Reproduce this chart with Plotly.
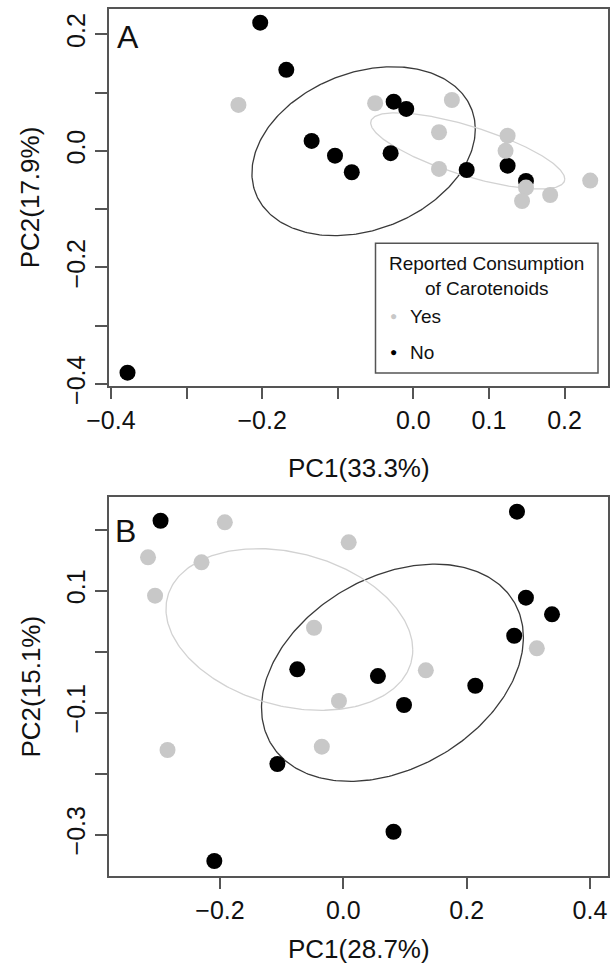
import numpy as np
import plotly.graph_objects as go

# ---------------- data: panel A ----------------
A_no_pc1 = [-0.2025, -0.168, -0.1345, -0.1036, -0.0814, -0.026, -0.0093, -0.030, 0.0706, 0.1247, 0.149, -0.378]
A_no_pc2 = [0.220, 0.139, 0.017, -0.0082, -0.0367, 0.0844, 0.0719, -0.004, -0.0328, -0.0254, -0.0516, -0.3806]
A_yes_pc1 = [-0.2313, -0.0505, 0.051, 0.034, 0.034, 0.1247, 0.122, 0.149, 0.1438, 0.181, 0.234]
A_yes_pc2 = [0.0788, 0.0817, 0.0873, 0.0319, -0.031, 0.026, 0.0, -0.063, -0.086, -0.0757, -0.051]

# ---------------- data: panel B ----------------
B_no_pc1 = [-0.2964, 0.2816, 0.2961, 0.3384, 0.2771, -0.0747, 0.0561, 0.214, 0.0984, -0.1069, 0.0814, -0.2092]
B_no_pc2 = [0.2144, 0.2292, 0.0882, 0.061, 0.0259, -0.0292, -0.0402, -0.0561, -0.0877, -0.1844, -0.2954, -0.3434]
B_yes_pc1 = [-0.1922, 0.0087, -0.3167, -0.230, -0.3053, -0.0475, 0.3138, 0.1338, -0.0071, -0.2851, -0.0349]
B_yes_pc2 = [0.2118, 0.179, 0.1544, 0.1462, 0.0915, 0.039, 0.0052, -0.0308, -0.0811, -0.1615, -0.156]

# ---------------- tick labels ----------------
A_x_tickvals = [-0.4, -0.3, -0.2, -0.1, 0.0, 0.1, 0.2]
A_x_ticktext = ["\u22120.4", "", "\u22120.2", "", "0.0", "0.1", "0.2"]
A_y_tickvals = [-0.4, -0.3, -0.2, -0.1, 0.0, 0.1, 0.2]
A_y_ticktext = ["\u22120.4", "", "\u22120.2", "", "0.0", "", "0.2"]
B_x_tickvals = [-0.2, 0.0, 0.2, 0.4]
B_x_ticktext = ["\u22120.2", "0.0", "0.2", "0.4"]
B_y_tickvals = [-0.3, -0.2, -0.1, 0.0, 0.1, 0.2]
B_y_ticktext = ["\u22120.3", "", "\u22120.1", "", "0.1", ""]

legend_title = "Reported Consumption<br>of Carotenoids"
group_names = ["Yes", "No"]
A_xlabel, A_ylabel = "PC1(33.3%)", "PC2(17.9%)"
B_xlabel, B_ylabel = "PC1(28.7%)", "PC2(15.1%)"

FONT = "Liberation Sans, Arial, Helvetica, sans-serif"
GRAY = "#c8c8c8"
BLACK = "#000000"
AXC = "#555555"
W, H = 611, 967


def px(x):
    return x / W


def py(y):
    return 1 - y / H


def sd_ellipse(x, y, n=300):
    pts = np.column_stack([x, y])
    mu = pts.mean(axis=0)
    cov = np.cov(pts.T)
    L = np.linalg.cholesky(cov)
    t = np.linspace(0, 2 * np.pi, n)
    e = mu[:, None] + L @ np.vstack([np.cos(t), np.sin(t)])
    return e[0], e[1]


fig = go.Figure()

for (xn, yn, xy_, yy_, xa, ya) in [
    (A_no_pc1, A_no_pc2, A_yes_pc1, A_yes_pc2, "x", "y"),
    (B_no_pc1, B_no_pc2, B_yes_pc1, B_yes_pc2, "x2", "y2"),
]:
    ex, ey = sd_ellipse(xn, yn)
    fig.add_trace(go.Scatter(x=ex, y=ey, mode="lines", line=dict(color="#3a3a3a", width=1.3),
                             showlegend=False, hoverinfo="skip", xaxis=xa, yaxis=ya))
    ex, ey = sd_ellipse(xy_, yy_)
    fig.add_trace(go.Scatter(x=ex, y=ey, mode="lines", line=dict(color="#d2d2d2", width=1.3),
                             showlegend=False, hoverinfo="skip", xaxis=xa, yaxis=ya))
    fig.add_trace(go.Scatter(x=xn, y=yn, mode="markers", name="No",
                             marker=dict(color=BLACK, size=16, line=dict(width=0)),
                             showlegend=False, xaxis=xa, yaxis=ya))
    fig.add_trace(go.Scatter(x=xy_, y=yy_, mode="markers", name="Yes",
                             marker=dict(color=GRAY, size=16, line=dict(width=0)),
                             showlegend=False, xaxis=xa, yaxis=ya))

axis_common = dict(showline=True, mirror=True, linecolor=AXC, linewidth=1.5,
                   ticks="outside", ticklen=12, tickwidth=1.5, tickcolor=AXC,
                   showgrid=False, zeroline=False, tickmode="array", automargin=False,
                   tickfont=dict(family=FONT, size=25, color="#111111"))

fig.update_layout(
    width=W, height=H, margin=dict(l=0, r=0, t=0, b=0, autoexpand=False),
    paper_bgcolor="white", plot_bgcolor="white",
    font=dict(family=FONT, color="#111111"),
    showlegend=False,
    xaxis=dict(domain=[px(109), px(608)], range=[-0.4025, 0.2575], anchor="y",
               tickvals=A_x_tickvals, ticktext=A_x_ticktext, **axis_common),
    yaxis=dict(domain=[py(385.7), py(9)], range=[-0.4029, 0.2434], anchor="x",
               tickvals=A_y_tickvals, ticktext=A_y_ticktext, tickangle=-90, **axis_common),
    xaxis2=dict(domain=[px(109), px(608)], range=[-0.380, 0.4292], anchor="y2",
                tickvals=B_x_tickvals, ticktext=B_x_ticktext, **axis_common),
    yaxis2=dict(domain=[py(875.7), py(497.3)], range=[-0.3675, 0.2528], anchor="x2",
                tickvals=B_y_tickvals, ticktext=B_y_ticktext, tickangle=-90, **axis_common),
)

# ---- legend (panel A key) ----
fig.add_shape(type="rect", xref="paper", yref="paper",
              x0=px(375.5), x1=px(598), y0=py(373), y1=py(243.3),
              line=dict(color=AXC, width=1.5), fillcolor="white", layer="above")
fig.add_annotation(text=legend_title, x=px(486.5), y=py(276), xref="paper", yref="paper",
                   xanchor="center", yanchor="middle", align="center", showarrow=False,
                   font=dict(family=FONT, size=19, color="#111111"))
for name, col, yc in [(group_names[0], GRAY, 316), (group_names[1], BLACK, 352)]:
    fig.add_annotation(text="\u25CF", x=px(393), y=py(yc), xref="paper", yref="paper",
                       xanchor="center", yanchor="middle", showarrow=False,
                       font=dict(family=FONT, size=12, color=col))
    fig.add_annotation(text=name, x=px(408), y=py(yc), xref="paper", yref="paper",
                       xanchor="left", yanchor="middle", showarrow=False,
                       font=dict(family=FONT, size=19, color="#111111"))

# ---- panel letters ----
for txt, x, y in [("A", 115, 36.5), ("B", 113, 531)]:
    fig.add_annotation(text=txt, x=px(x), y=py(y), xref="paper", yref="paper",
                       xanchor="left", yanchor="middle", showarrow=False,
                       font=dict(family=FONT, size=32, color="#111111"))

# ---- axis titles ----
titles = [
    (A_xlabel, 358.5, 468, 0),
    (A_ylabel, 30, 197.3, -90),
    (B_xlabel, 358.5, 949, 0),
    (B_ylabel, 30, 686.5, -90),
]
for txt, x, y, ang in titles:
    fig.add_annotation(text=txt, x=px(x), y=py(y), xref="paper", yref="paper", xanchor="center",
                       yanchor="middle", showarrow=False, textangle=ang,
                       font=dict(family=FONT, size=26, color="#111111"))

fig.write_html("out.html")
